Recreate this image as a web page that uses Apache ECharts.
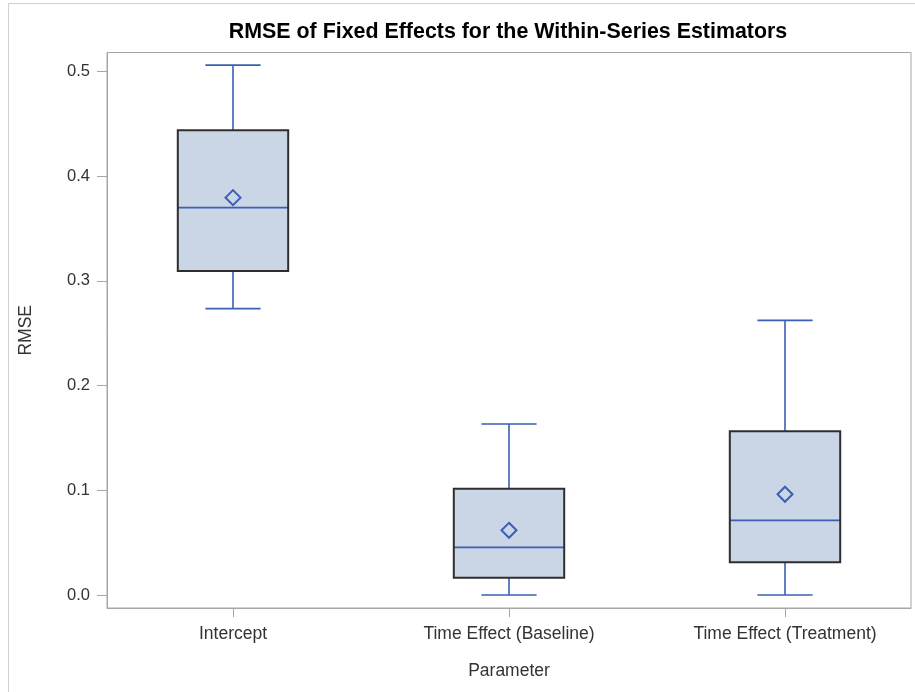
<!DOCTYPE html>
<html>
<head>
<meta charset="utf-8">
<script src="https://cdn.jsdelivr.net/npm/echarts@6/dist/echarts.min.js"></script>
<style>
  html, body { margin: 0; padding: 0; background: #fff; }
  #chart { width: 915px; height: 692px; }
</style>
</head>
<body>
<div id="chart"></div>
<script>
// Box-plot summary of RMSE per parameter
const categories = ['Intercept', 'Time Effect (Baseline)', 'Time Effect (Treatment)'];
const whiskerLow  = [0.2735, 0.0,    0.0];
const q1          = [0.3095, 0.0165, 0.0312];
const median      = [0.370,  0.0455, 0.0713];
const q3          = [0.4438, 0.1015, 0.1563];
const whiskerHigh = [0.506,  0.1633, 0.2623];
const mean        = [0.3795, 0.0618, 0.0962];
const yTicks = [0, 0.1, 0.2, 0.3, 0.4, 0.5];
const xTicks = [0, 1, 2];

const FONT = '"Liberation Sans", Arial, sans-serif';
const BLUE = '#3A5FB4';
const BOX_FILL = '#CAD5E5';
const BOX_EDGE = '#2E2E2E';
const AXIS_GRAY = '#A6A6A6';

const rows = categories.map((c, i) =>
  [i, whiskerLow[i], q1[i], median[i], q3[i], whiskerHigh[i], mean[i]]);

function renderBox(params, api) {
  const x = api.value(0);
  const pLow = api.coord([x, api.value(1)]);
  const pQ1 = api.coord([x, api.value(2)]);
  const pMed = api.coord([x, api.value(3)]);
  const pQ3 = api.coord([x, api.value(4)]);
  const pHigh = api.coord([x, api.value(5)]);
  const pMean = api.coord([x, api.value(6)]);
  const cx = pMed[0];
  const boxHalf = api.size([0.4, 0])[0] / 2;
  const capHalf = api.size([0.2, 0])[0] / 2;
  const d = 7.5;
  const lineStyle = { stroke: BLUE, lineWidth: 1.6, fill: null };
  return {
    type: 'group',
    children: [
      { type: 'rect', shape: { x: cx - boxHalf, y: pQ3[1], width: boxHalf * 2, height: pQ1[1] - pQ3[1] },
        style: { fill: BOX_FILL } },
      { type: 'line', shape: { x1: cx, y1: pQ3[1], x2: cx, y2: pHigh[1] }, style: lineStyle },
      { type: 'line', shape: { x1: cx, y1: pQ1[1], x2: cx, y2: pLow[1] }, style: lineStyle },
      { type: 'line', shape: { x1: cx - capHalf, y1: pHigh[1], x2: cx + capHalf, y2: pHigh[1] }, style: lineStyle },
      { type: 'line', shape: { x1: cx - capHalf, y1: pLow[1], x2: cx + capHalf, y2: pLow[1] }, style: lineStyle },
      { type: 'line', shape: { x1: cx - boxHalf, y1: pMed[1], x2: cx + boxHalf, y2: pMed[1] }, style: lineStyle },
      { type: 'rect', shape: { x: cx - boxHalf, y: pQ3[1], width: boxHalf * 2, height: pQ1[1] - pQ3[1] },
        style: { fill: null, stroke: BOX_EDGE, lineWidth: 2 } },
      { type: 'polygon', shape: { points: [[cx, pMean[1] - d], [cx + d, pMean[1]], [cx, pMean[1] + d], [cx - d, pMean[1]]] },
        style: { fill: null, stroke: BLUE, lineWidth: 2 } }
    ]
  };
}

const chart = echarts.init(document.getElementById('chart'), null, { renderer: 'canvas' });
chart.setOption({
  backgroundColor: '#fff',
  animation: false,
  graphic: [
    { type: 'rect', shape: { x: 8.5, y: 3.5, width: 920, height: 720 },
      style: { fill: null, stroke: '#D0D0D0', lineWidth: 1 } },
    { type: 'text', x: 508, y: 32,
      style: { text: 'RMSE of Fixed Effects for the Within-Series Estimators',
        font: 'bold 21.4px ' + FONT, fill: '#000', align: 'center', verticalAlign: 'middle' } }
  ],
  grid: {
    left: 107, top: 52.5, right: 4, bottom: 84,
    show: true, borderColor: AXIS_GRAY, borderWidth: 1, backgroundColor: 'transparent'
  },
  xAxis: {
    type: 'value',
    min: -0.4565, max: 2.4565,
    name: 'Parameter', nameLocation: 'middle', nameGap: 54,
    nameTextStyle: { fontFamily: FONT, fontSize: 17.5, color: '#333' },
    axisLine: { show: true, onZero: false, lineStyle: { color: AXIS_GRAY } },
    axisTick: { show: true, length: 9, customValues: xTicks, lineStyle: { color: AXIS_GRAY } },
    axisLabel: { customValues: xTicks, margin: 17, fontFamily: FONT, fontSize: 17.5, color: '#333',
      formatter: v => categories[Math.round(v)] },
    splitLine: { show: false }
  },
  yAxis: {
    type: 'value',
    min: -0.0124, max: 0.5181,
    name: 'RMSE', nameLocation: 'middle', nameGap: 72,
    nameTextStyle: { fontFamily: FONT, fontSize: 17.5, color: '#333' },
    axisLine: { show: true, onZero: false, lineStyle: { color: AXIS_GRAY } },
    axisTick: { show: true, length: 10, customValues: yTicks, lineStyle: { color: AXIS_GRAY } },
    axisLabel: { customValues: yTicks, margin: 17, fontFamily: FONT, fontSize: 16.5, color: '#333',
      formatter: v => v.toFixed(1) },
    splitLine: { show: false }
  },
  series: [{
    type: 'custom',
    renderItem: renderBox,
    data: rows,
    encode: { x: 0, y: [1, 2, 3, 4, 5, 6] },
    clip: false
  }]
});
</script>
</body>
</html>
